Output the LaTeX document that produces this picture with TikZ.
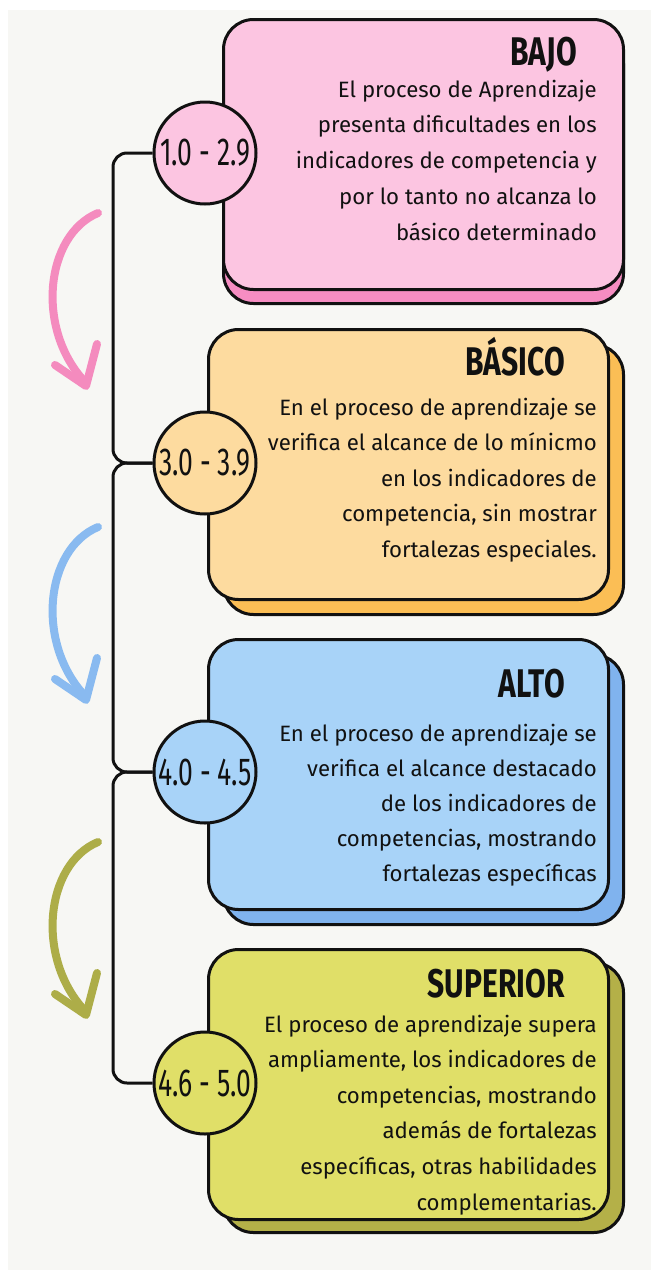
\documentclass[tikz,border=0pt]{standalone}
\usepackage{fontspec}
\setmainfont{Fira Sans}
\newfontfamily\titlefont[FakeStretch=0.75]{Fira Sans}
\newfontfamily\numfont[FakeStretch=0.68]{Fira Sans}
\definecolor{ink}{HTML}{111111}
\definecolor{panel}{HTML}{F7F7F4}
\definecolor{pinkF}{HTML}{FCC5E1}
\definecolor{pinkS}{HTML}{F68DC2}
\definecolor{pinkA}{HTML}{F48BBE}
\definecolor{oraF}{HTML}{FDDB9F}
\definecolor{oraS}{HTML}{FBBE55}
\definecolor{bluF}{HTML}{A8D3F8}
\definecolor{bluS}{HTML}{80B3EE}
\definecolor{bluA}{HTML}{89BAF0}
\definecolor{oliF}{HTML}{E0DF68}
\definecolor{oliS}{HTML}{B4B048}
\definecolor{oliA}{HTML}{ADAD48}
\begin{document}
\begin{tikzpicture}[x=1pt,y=-1pt,
  card/.style={draw=ink, line width=3pt, rounded corners=30pt, rectangle, inner sep=0pt,
    minimum width=400pt, minimum height=270pt, anchor=north west},
  badge/.style={draw=ink, line width=3pt, circle, inner sep=0pt, minimum size=102pt,
    font=\numfont\fontsize{39}{39}\selectfont, text=ink},
  ttl/.style={anchor=base east, inner sep=0pt, text=ink,
    font=\titlefont\bfseries\fontsize{40}{40}\selectfont},
  body/.style={anchor=base east, inner sep=0pt, text=ink,
    font=\fontsize{22.2}{35}\selectfont},
  conn/.style={draw=ink, line width=3pt, rounded corners=14pt},
  swoosh/.style={line width=8pt, line cap=round, line join=round}
]
\useasboundingbox (0,0) rectangle (651,1272);
\fill[white] (0,0) rectangle (651,1272);
\fill[panel] (8,10) rectangle (651,1270);

% cards: shadows then fronts
\node[card, fill=pinkS] (s1) at (222,32) {};
\node[card, fill=pinkF] (f1) at (222,18) {};
\node[card, fill=oraS] (s2) at (222,343) {};
\node[card, fill=oraF] (f2) at (207,328) {};
\node[card, fill=bluS] (s3) at (222,653) {};
\node[card, fill=bluF] (f3) at (207,638) {};
\node[card, fill=oliS] (s4) at (222,961) {};
\node[card, fill=oliF] (f4) at (207,948) {};

% spine and badges
\coordinate (spine) at (113,0);
\node[badge, fill=pinkF] (c1) at (205,153) {\makebox[0pt]{1.0 - 2.9}};
\node[badge, fill=oraF] (c2) at (205,463) {\makebox[0pt]{3.0 - 3.9}};
\node[badge, fill=bluF] (c3) at (205,772) {\makebox[0pt]{4.0 - 4.5}};
\node[badge, fill=oliF] (c4) at (205,1083) {\makebox[0pt]{4.6 - 5.0}};
\draw[conn] (c1.west) -| (spine |- c2.west) -- (c2.west);
\draw[conn] (c2.west) -| (spine |- c3.west) -- (c3.west);
\draw[conn] (c3.west) -| (spine |- c4.west) -- (c4.west);

% curved arrows
\foreach \dy/\col in {0/pinkA, 314/bluA, 629/oliA}{
  \begin{scope}[shift={(0,\dy)}]
    \draw[swoosh, draw=\col] (98,213) .. controls (45,235) and (35,330) .. (86,383);
    \draw[swoosh, draw=\col] (55,365) -- (86,386) -- (97,344);
  \end{scope}
}

% titles
\node[ttl] (t1) at (577,65) {BAJO};
\node[ttl] (t2) at (565,375) {BÁSICO};
\node[ttl] (t3) at (565,697) {ALTO};
\node[ttl] (t4) at (565,997) {SUPERIOR};

% body texts
\foreach \t [count=\i] in {{El proceso de Aprendizaje},{presenta dificultades en los},
  {indicadores de competencia y},{por lo tanto no alcanza lo},{básico determinado}}
  \node[body] (a\i) at (597,{97+(\i-1)*35.8}) {\t};
\foreach \t [count=\i] in {{En el proceso de aprendizaje se},{verifica el alcance de lo mínicmo},
  {en los indicadores de},{competencia, sin mostrar},{fortalezas especiales.}}
  \node[body] (b\i) at (597,{415+(\i-1)*35.5}) {\t};
\foreach \t [count=\i] in {{En el proceso de aprendizaje se},{verifica el alcance destacado},
  {de los indicadores de},{competencias, mostrando},{fortalezas específicas}}
  \node[body] (c\i x) at (597,{741+(\i-1)*35}) {\t};
\foreach \t [count=\i] in {{El proceso de aprendizaje supera},{ampliamente, los indicadores de},
  {competencias, mostrando},{además de fortalezas},{específicas, otras habilidades},
  {complementarias.}}
  \node[body] (d\i) at (597,{1032+(\i-1)*35.6}) {\t};
\end{tikzpicture}
\end{document}
